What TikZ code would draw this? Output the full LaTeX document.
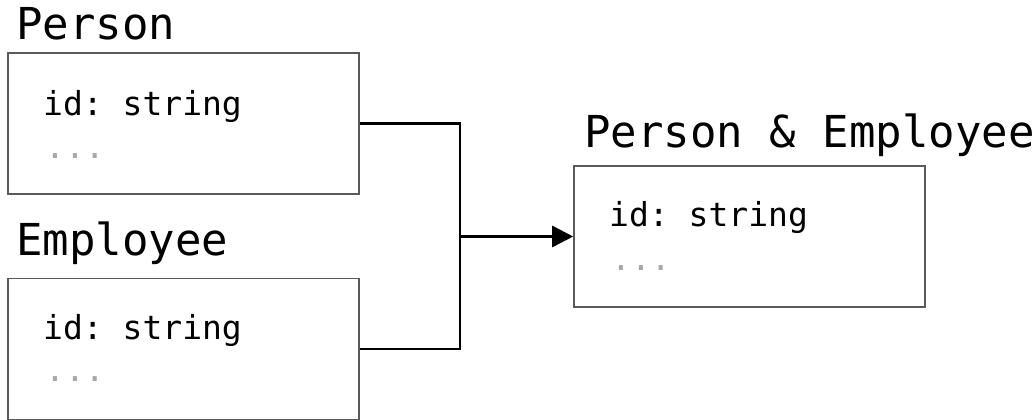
\documentclass[tikz,border=0pt]{standalone}
\usepackage{fontspec}
\setmonofont{DejaVu Sans Mono}
\usetikzlibrary{arrows.meta}
\definecolor{boxline}{HTML}{5A5A5A}
\definecolor{dotgray}{HTML}{A8A8A8}
\tikzset{
  typebox/.style={draw=boxline, line width=1.6pt, minimum width=351pt, minimum height=141pt, inner sep=0pt},
  title/.style={anchor=base west, inner sep=0pt, font=\ttfamily\fontsize{44}{44}\selectfont},
  field/.style={anchor=base west, inner sep=0pt, font=\ttfamily\fontsize{33}{33}\selectfont},
  more/.style={field, text=dotgray},
  conn/.style={draw=black, line width=2.6pt},
}
\begin{document}
\begin{tikzpicture}[x=1pt,y=-1pt]
\useasboundingbox (0,0) rectangle (1033,420);
% boxes
\node[typebox] (p) at (183.5,123.5) {};
\node[typebox] (e) at (183.5,349) {};
\node[typebox] (r) at (749.5,236.5) {};
% titles
\node[title] (pt) at (16,40) {Person};
\node[title] (et) at (16,255) {Employee};
\node[title] (rt) at (584,147) {Person \& Employee};
% fields
\node[field] (pf) at (43,115) {id: string};
\node[more] (pm) at (45,158) {...};
\node[field] (ef) at (43,339) {id: string};
\node[more] (em) at (45,381) {...};
\node[field] (rf) at (609,226) {id: string};
\node[more] (rm) at (611,270) {...};
% connectors
\coordinate (j) at (460,236.5);
\draw[conn] (p.east) -| (j) |- (e.east);
\draw[conn,-{Triangle[length=21pt,width=21pt]}] (j) -- (r.west);
\end{tikzpicture}
\end{document}
